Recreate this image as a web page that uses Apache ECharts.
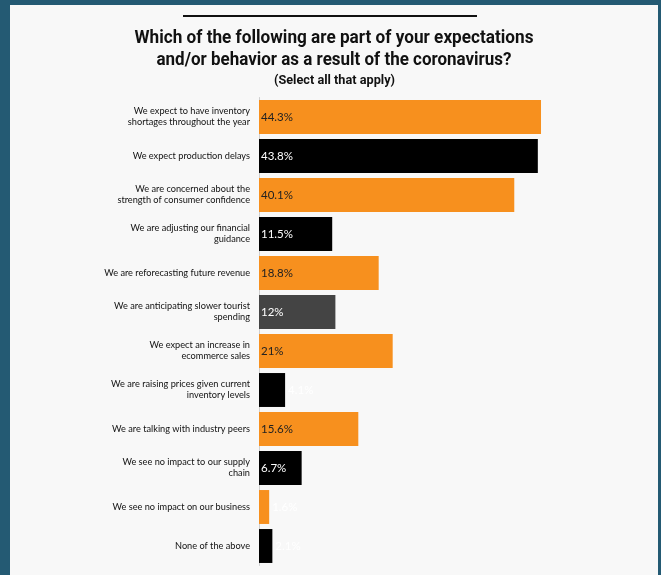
<!DOCTYPE html>
<html><head><meta charset="utf-8">
<script src="https://cdn.jsdelivr.net/npm/echarts@6/dist/echarts.min.js"></script>
<style>html,body{margin:0;padding:0;background:#245a73;}#c{width:661px;height:575px;}</style>
</head><body><div id="c"></div>
<script>
const titleLines = [
  "Which of the following are part of your expectations",
  "and/or behavior as a result of the coronavirus?"
];
const subtitleText = "(Select all that apply)";
const categories = [
  "We expect to have inventory\nshortages throughout the year",
  "We expect production delays",
  "We are concerned about the\nstrength of consumer confidence",
  "We are adjusting our financial\nguidance",
  "We are reforecasting future revenue",
  "We are anticipating slower tourist\nspending",
  "We expect an increase in\necommerce sales",
  "We are raising prices given current\ninventory levels",
  "We are talking with industry peers",
  "We see no impact to our supply\nchain",
  "We see no impact on our business",
  "None of the above"
];
const values = [44.3, 43.8, 40.1, 11.5, 18.8, 12, 21, 4.1, 15.6, 6.7, 1.6, 2.1];
const barColors = ["#f7901e","#000000","#f7901e","#000000","#f7901e","#444444","#f7901e","#000000","#f7901e","#000000","#f7901e","#000000"];
const labelColors = ["#222","#fff","#222","#fff","#222","#fff","#222","#fff","#222","#fff","#fff","#fff"];
const insideLabel = [true,true,true,true,true,true,true,false,true,true,false,false];

// measure text to emulate the condensed title face
const cv = document.createElement('canvas').getContext('2d');
function fitScale(text, font, target){ cv.font = font; return target / cv.measureText(text).width; }
const tFont = 'bold 18px Roboto, sans-serif';
const sFont = 'bold 12.5px Roboto, sans-serif';
const s1 = fitScale(titleLines[0], tFont, 399);
const s2 = fitScale(titleLines[1], tFont, 355);
const s3 = fitScale(subtitleText, sFont, 121);

const chart = echarts.init(document.getElementById('c'));
const data = values.map((v,i)=>({
  value: v,
  itemStyle: {color: barColors[i]},
  label: {
    show: true,
    position: insideLabel[i] ? 'insideLeft' : 'right',
    distance: insideLabel[i] ? 2 : 3,
    color: labelColors[i],
    formatter: v + '%'
  }
}));
chart.setOption({
  backgroundColor: '#245a73',
  animation: false,
  graphic: [
    {type:'rect', shape:{x:10,y:5,width:648,height:575}, style:{fill:'#f8f8f8'}, z:-10},
    {type:'line', shape:{x1:183,y1:16,x2:477,y2:16}, style:{stroke:'#111',lineWidth:2}, z:1},
    {type:'text', x:334, y:38, scaleX:s1, style:{text:titleLines[0], fill:'#111', font:tFont, align:'center', verticalAlign:'middle'}},
    {type:'text', x:334, y:60, scaleX:s2, style:{text:titleLines[1], fill:'#111', font:tFont, align:'center', verticalAlign:'middle'}},
    {type:'text', x:334.5, y:80.5, scaleX:s3, style:{text:subtitleText, fill:'#111', font:sFont, align:'center', verticalAlign:'middle'}}
  ],
  grid: {left: 259, top: 97.5, height: 468, width: 318.3, containLabel: false},
  xAxis: {type:'value', min:0, max:50, show:false},
  yAxis: {
    type:'category', inverse:true, data: categories,
    axisLine: {show:true, lineStyle:{color:'#cfcfcf', width:1}},
    axisTick: {show:false},
    axisLabel: {color:'#111', fontFamily:'Lato', fontSize:9.2, lineHeight:11, margin:9, align:'right'}
  },
  series: [{
    type:'bar', data: data, barCategoryGap:'13%',
    label: {fontFamily:'Lato', fontSize:11.5}
  }]
});
</script></body></html>
